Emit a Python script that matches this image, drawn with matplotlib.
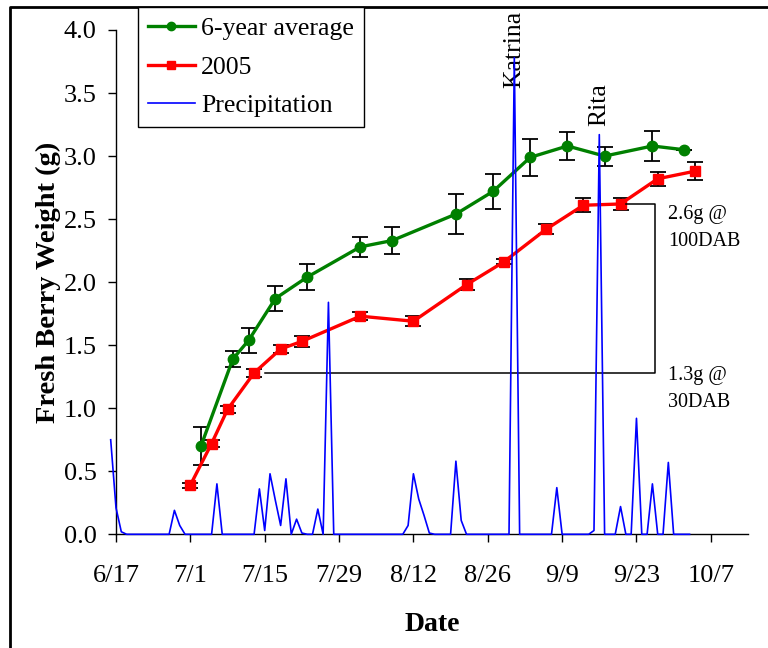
import numpy as np
import pandas as pd
import matplotlib
matplotlib.use('Agg')
import matplotlib.pyplot as plt
from matplotlib.lines import Line2D

plt.rcParams['font.family'] = ['Liberation Serif', 'DejaVu Serif']

year = 2005

# 6-year average fresh berry weight (g)
avg_dates = ['7/3', '7/9', '7/12', '7/17', '7/23', '8/2', '8/8', '8/20',
             '8/27', '9/3', '9/10', '9/17', '9/26', '10/2']
avg_weight = [0.70, 1.39, 1.54, 1.87, 2.04, 2.28, 2.33, 2.54,
              2.72, 2.99, 3.08, 3.00, 3.08, 3.05]
avg_err = [0.15, 0.06, 0.10, 0.10, 0.10, 0.08, 0.11, 0.16,
           0.14, 0.145, 0.11, 0.075, 0.12, 0.0]

# 2005 season
y05_dates = ['7/1', '7/5', '7/8', '7/13', '7/18', '7/22', '8/2', '8/12',
             '8/22', '8/29', '9/6', '9/13', '9/20', '9/27', '10/4']
y05_weight = [0.39, 0.72, 0.99, 1.28, 1.47, 1.53, 1.73, 1.69,
              1.98, 2.16, 2.42, 2.61, 2.62, 2.82, 2.88]
y05_err = [0.02, 0.03, 0.03, 0.03, 0.03, 0.045, 0.03, 0.04,
           0.045, 0.02, 0.04, 0.055, 0.05, 0.055, 0.07]

# daily precipitation, one value per day from 6/16 to 10/3
precip_start = '6/16'
precip = [0.75, 0.21, 0.02, 0, 0, 0, 0, 0, 0, 0,
          0, 0, 0.19, 0.07, 0, 0, 0, 0, 0, 0,
          0.40, 0, 0, 0, 0, 0, 0, 0, 0.36, 0.03,
          0.48, 0.27, 0.07, 0.44, 0, 0.12, 0.01, 0, 0, 0.20,
          0, 1.84, 0, 0, 0, 0, 0, 0, 0, 0,
          0, 0, 0, 0, 0, 0, 0.07, 0.48, 0.28, 0.15,
          0.01, 0, 0, 0, 0, 0.58, 0.11, 0, 0, 0,
          0, 0, 0, 0, 0, 0, 3.78, 0, 0, 0,
          0, 0, 0, 0, 0.37, 0, 0, 0, 0, 0,
          0, 0.03, 3.17, 0, 0, 0, 0.22, 0, 0, 0.92,
          0, 0, 0.40, 0, 0, 0.57, 0, 0, 0, 0]

xtick_labels = ['6/17', '7/1', '7/15', '7/29', '8/12', '8/26', '9/9', '9/23', '10/7']
x_end = '10/14'

# hurricane labels
storm_names = ['Katrina', 'Rita']
storm_dates = ['8/31', '9/16']
storm_label_y = [3.54, 3.24]


def to_date(s):
    return pd.to_datetime(f'{year}/{s}', format='%Y/%m/%d')


avg_x = [to_date(d) for d in avg_dates]
y05_x = [to_date(d) for d in y05_dates]
precip_x = pd.date_range(to_date(precip_start), periods=len(precip), freq='D')

fig = plt.figure(figsize=(7.68, 6.48), dpi=100)
ax = fig.add_axes([116 / 768, 1 - 534.3 / 648, (748 - 116) / 768, (534.3 - 30) / 648])

ax.errorbar(avg_x, avg_weight, yerr=avg_err, fmt='none', ecolor='black',
            elinewidth=1.3, capsize=5.5, capthick=1.3, zorder=2)
ax.plot(avg_x, avg_weight, color='#008000', lw=2.4, marker='o', ms=7.5,
        label='6-year average', zorder=3)
ax.errorbar(y05_x, y05_weight, yerr=y05_err, fmt='none', ecolor='black',
            elinewidth=1.3, capsize=5.5, capthick=1.3, zorder=2)
ax.plot(y05_x, y05_weight, color='#FF0000', lw=2.4, marker='s', ms=7.5,
        label='2005', zorder=3)
ax.plot(precip_x, precip, color='#0000FF', lw=1.2, clip_on=False,
        label='Precipitation', zorder=5)

# bracket between 30 and 100 days after bloom
lo, hi = y05_weight[3], y05_weight[12]
bx = [to_date('7/15'), to_date('9/26') + pd.Timedelta(hours=12)]
ax.plot([bx[0], bx[1], bx[1], to_date('9/21')], [lo, lo, hi, hi],
        color='black', lw=1.1, zorder=4)
ax.text(to_date('9/29'), 2.43, '2.6g @\n100DAB', fontsize=14.5, va='center',
        ha='left', linespacing=1.55)
ax.text(to_date('9/29'), 1.15, '1.3g @\n30DAB', fontsize=14.5, va='center',
        ha='left', linespacing=1.55)

for name, d, yy in zip(storm_names, storm_dates, storm_label_y):
    ax.text(to_date(d), yy, name, rotation=90, fontsize=18.5, ha='center',
            va='bottom', clip_on=False)

ax.set_xlim(to_date(xtick_labels[0]), to_date(x_end))
ax.set_ylim(0, 4)
ax.set_xticks([to_date(t) for t in xtick_labels])
ax.set_xticklabels(xtick_labels)
yt = np.arange(0, 4.01, 0.5)
ax.set_yticks(yt)
ax.set_yticklabels([f'{v:.1f}' for v in yt])
ax.tick_params(axis='both', direction='out', length=6, width=1, labelsize=19)
ax.tick_params(axis='x', pad=16)
ax.tick_params(axis='y', pad=8)
for s in ['top', 'right']:
    ax.spines[s].set_visible(False)
for s in ['left', 'bottom']:
    ax.spines[s].set_linewidth(1)

ax.set_xlabel('Date', fontsize=20, fontweight='bold', labelpad=18)
ax.set_ylabel('Fresh Berry Weight (g)', fontsize=20.5, fontweight='bold', labelpad=2)

leg = fig.legend(loc='upper left', bbox_to_anchor=(138 / 768, 1 - 7 / 648),
                 fontsize=18.5, frameon=True, fancybox=False, edgecolor='black',
                 framealpha=1, borderpad=0.4, labelspacing=0.6,
                 handlelength=1.8, handletextpad=0.25, borderaxespad=0)
leg.get_frame().set_linewidth(1)
for h in leg.legend_handles[:2]:
    h.set_markersize(6)

# outer frame (top and left edges visible)
fig.add_artist(Line2D([10 / 768, 10 / 768, 1], [0, 1 - 7 / 648, 1 - 7 / 648],
                      transform=fig.transFigure, color='black', lw=2))

fig.savefig('out.png', dpi=100)
